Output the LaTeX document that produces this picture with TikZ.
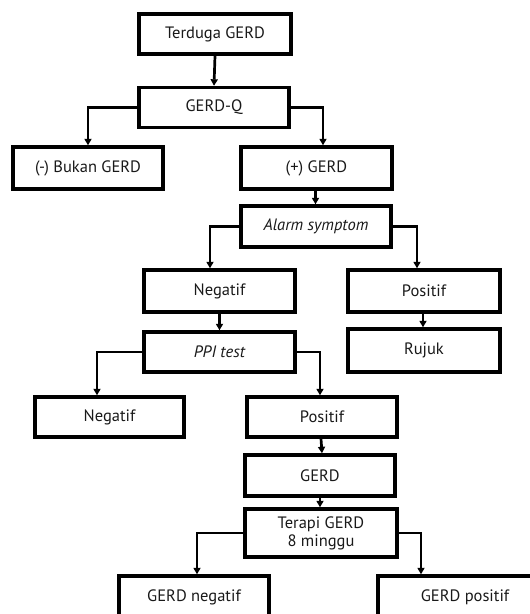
\documentclass[tikz,border=0pt]{standalone}
\usepackage{fontspec}
\setmainfont{PT Sans}
\usetikzlibrary{arrows.meta}
\begin{document}
\begin{tikzpicture}[x=1pt,y=-1pt,
  box/.style={draw=black,line width=3.4pt,minimum width=#1,minimum height=40pt,inner sep=0pt,align=center,font=\fontsize{16.5}{18}\selectfont,text=black!90},
  box/.default=150pt,
  conn/.style={line width=2.7pt,-{Triangle[width=7pt,length=6.5pt]}}]
\useasboundingbox (0,0) rectangle (530,614);
\clip (0,0) rectangle (530,614);
\node[box=152pt] (t) at (215,34) {Terduga GERD};
\node[box] (q) at (214,107.5) {GERD-Q};
\node[box,minimum height=42pt] (b) at (88,168) {(-) Bukan GERD};
\node[box=151pt,minimum height=42pt] (p) at (316.5,168) {(+) GERD};
\node[box,minimum height=41pt] (a) at (316,226.5) {\itshape Alarm symptom};
\node[box=151pt,minimum height=42pt] (n1) at (219.5,291) {Negatif};
\node[box=152pt,minimum height=42pt] (p1) at (424,291) {Positif};
\node[box=151pt] (ppi) at (219.5,352) {\itshape PPI test};
\node[box=152pt,minimum height=43pt] (r) at (424,350.5) {Rujuk};
\node[box=149pt] (n2) at (109.5,417) {Negatif};
\node[box] (p2) at (322,417) {Positif};
\node[box,minimum height=41pt] (g) at (320,475.5) {GERD};
\node[box=152pt,minimum height=48pt] (tg) at (321,533) {Terapi GERD\\8 minggu};
\node[box,minimum height=42pt] (gn) at (194,597) {GERD negatif};
\node[box=174pt,minimum height=42pt] (gp) at (465,597) {GERD positif};
\draw[conn] (t.south) -- (q.north);
\draw[conn] (q.west) -| (b.north);
\draw[conn] (q.east) -| ([xshift=6.5pt]p.north);
\draw[conn] ([xshift=-1pt]p.south) -- ([xshift=-1pt]a.north -| p.south);
\draw[conn] (a.west) -| ([xshift=-9.5pt]n1.north);
\draw[conn] (a.east) -| ([xshift=-7pt]p1.north);
\draw[conn] (n1.south) -- (ppi.north);
\draw[conn] ([xshift=-1pt]p1.south) -- ([xshift=-1pt]r.north);
\draw[conn] (ppi.west) -| ([xshift=-12.5pt]n2.north);
\draw[conn] (ppi.east) -| ([xshift=-2pt]p2.north);
\draw[conn] ([xshift=-1pt]p2.south) -- (p2.south |- g.north);
\draw[conn] (g.south) -- (g.south |- tg.north);
\draw[conn] (tg.west) -| ([xshift=3pt]gn.north);
\draw[conn] (tg.east) -| ([xshift=-44pt]gp.north);
\end{tikzpicture}
\end{document}
